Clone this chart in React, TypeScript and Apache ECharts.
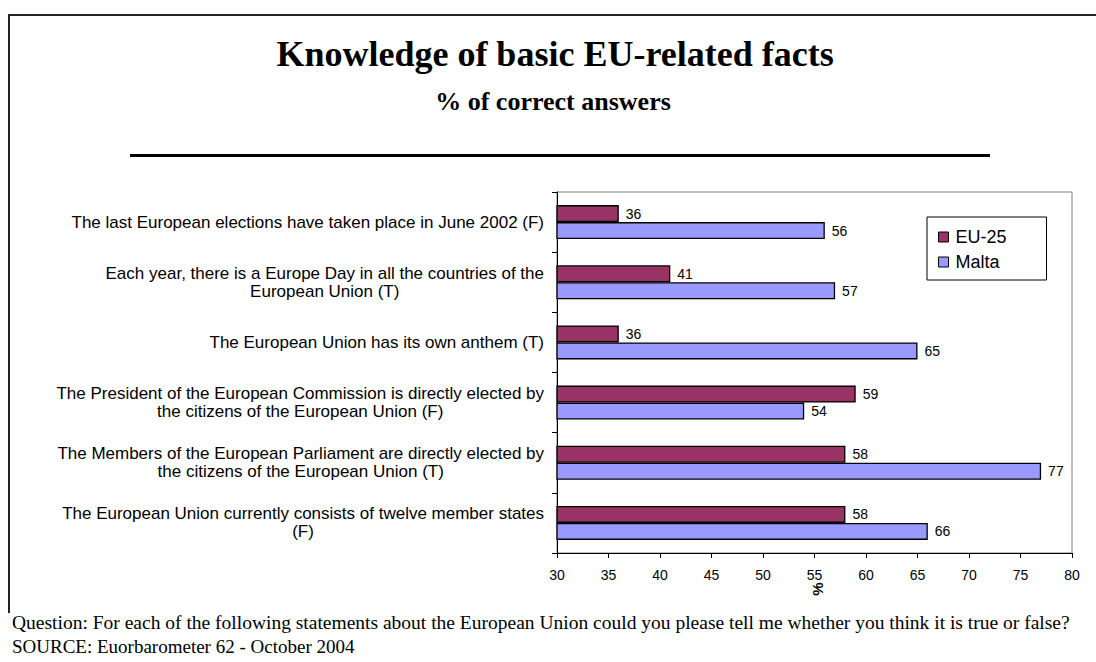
import React, { useEffect, useRef } from "react";
import * as echarts from "echarts";

const categories = [
  "The last European elections have taken place in June 2002 (F)",
  "Each year, there is a Europe Day in all the countries of the\nEuropean Union (T)",
  "The European Union has its own anthem (T)",
  "The President of the European Commission is directly elected by\nthe citizens of the European Union (F)",
  "The Members of the European Parliament are directly elected by\nthe citizens of the European Union (T)",
  "The European Union currently consists of twelve member states\n(F)",
];
const seriesNames = ["EU-25", "Malta"];
const eu25 = [36, 41, 36, 59, 58, 58];
const malta = [56, 57, 65, 54, 77, 66];
const xMin = 30;
const xMax = 80;
const xInterval = 5;

const titleText = "Knowledge of basic EU-related facts";
const subtitleText = "% of correct answers";
const axisUnit = "%";
const questionText =
  "Question: For each of the following statements about the European Union could you please tell me whether you think it is true or false?";
const sourceText = "SOURCE: Euorbarometer 62 - October 2004";

export default function App() {
  const ref = useRef<HTMLDivElement>(null);
  useEffect(() => {
    if (!ref.current) return;
    const chart = echarts.init(ref.current, undefined, { renderer: "svg" });
    const sans = "Arial, 'Liberation Sans', sans-serif";
    const serif = "'Times New Roman', 'Liberation Serif', serif";
    chart.setOption({
      animation: false,
      backgroundColor: "#fff",
      title: [
        {
          text: titleText,
          left: 550,
          top: 31,
          textAlign: "center",
          textStyle: { fontFamily: serif, fontWeight: "bold", fontSize: 36, color: "#000" },
        },
        {
          text: subtitleText,
          left: 548,
          top: 83,
          textAlign: "center",
          textStyle: { fontFamily: serif, fontWeight: "bold", fontSize: 26, color: "#000" },
        },
      ],
      legend: {
        orient: "vertical",
        left: 927,
        top: 217,
        padding: [11, 40, 9, 11],
        itemGap: 7,
        itemWidth: 10,
        itemHeight: 10,
        icon: "rect",
        borderColor: "#000",
        borderWidth: 1,
        backgroundColor: "#fff",
        textStyle: { fontFamily: sans, fontSize: 18, color: "#000", padding: [0, 0, 0, 2] },
        itemStyle: { borderColor: "#000", borderWidth: 1 },
        data: seriesNames,
      },
      grid: {
        left: 557,
        right: 24,
        top: 192,
        bottom: 109,
        show: true,
        borderColor: "#808080",
        borderWidth: 1,
        containLabel: false,
      },
      xAxis: {
        type: "value",
        min: xMin,
        max: xMax,
        interval: xInterval,
        axisLine: { show: true, lineStyle: { color: "#000", width: 1 } },
        axisTick: { show: true, length: 5, lineStyle: { color: "#000" } },
        splitLine: { show: false },
        axisLabel: { fontFamily: sans, fontSize: 14, color: "#000", margin: 15 },
      },
      yAxis: {
        type: "category",
        data: categories,
        inverse: true,
        axisLine: { show: true, lineStyle: { color: "#000", width: 1 } },
        axisTick: { show: true, length: 5, lineStyle: { color: "#000" } },
        axisLabel: {
          align: "right",
          margin: 13,
          formatter: (v: string) =>
            v
              .split("\n")
              .map((l) => `{c|${l}}`)
              .join("\n"),
          rich: {
            c: { align: "center", fontFamily: sans, fontSize: 17, color: "#000", lineHeight: 18 },
          },
        },
      },
      series: [
        {
          name: seriesNames[0],
          type: "bar",
          data: eu25,
          barWidth: 17,
          barGap: "0%",
          itemStyle: { color: "#993366", borderColor: "#000", borderWidth: 1.3 },
          label: {
            show: true,
            position: "right",
            distance: 7,
            fontFamily: sans,
            fontSize: 14,
            color: "#000",
          },
        },
        {
          name: seriesNames[1],
          type: "bar",
          data: malta,
          barWidth: 17,
          barGap: "0%",
          itemStyle: { color: "#9999FF", borderColor: "#000", borderWidth: 1.3 },
          label: {
            show: true,
            position: "right",
            distance: 7,
            fontFamily: sans,
            fontSize: 14,
            color: "#000",
          },
        },
      ],
      graphic: [
        {
          type: "polyline",
          shape: { points: [[9, 613], [9, 15], [1096, 15]] },
          style: { stroke: "#222", lineWidth: 2, fill: "none" },
          silent: true,
        },
        {
          type: "rect",
          shape: { x: 130, y: 154, width: 860, height: 3 },
          style: { fill: "#000" },
          silent: true,
        },
        {
          type: "text",
          x: 817,
          y: 589,
          rotation: Math.PI / 2,
          style: {
            text: axisUnit,
            fontFamily: sans,
            fontWeight: "bold",
            fontSize: 15,
            fill: "#000",
            align: "center",
            verticalAlign: "middle",
          },
        },
        {
          type: "text",
          x: 12,
          y: 622,
          style: {
            text: questionText,
            fontFamily: serif,
            fontSize: 19.5,
            fill: "#000",
            align: "left",
            verticalAlign: "middle",
          },
        },
        {
          type: "text",
          x: 12,
          y: 646,
          style: {
            text: sourceText,
            fontFamily: serif,
            fontSize: 19,
            fill: "#000",
            align: "left",
            verticalAlign: "middle",
          },
        },
      ],
    });
    return () => chart.dispose();
  }, []);
  return (
    <div
      ref={ref}
      style={{ position: "fixed", left: 0, top: 0, width: 1096, height: 662, background: "#fff" }}
    />
  );
}
